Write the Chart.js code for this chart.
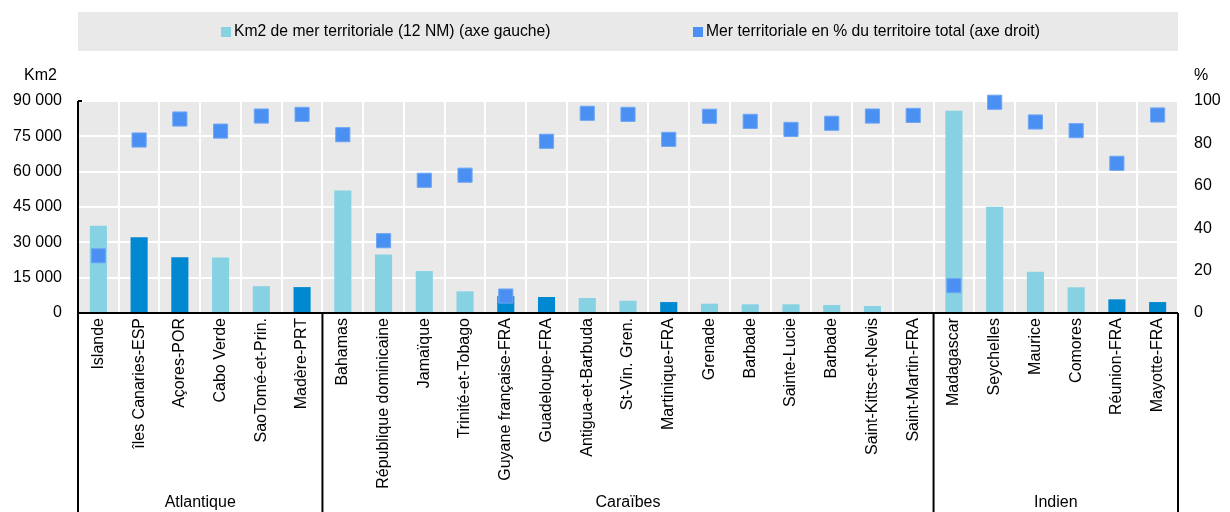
<!DOCTYPE html>
<html>
<head>
<meta charset="utf-8">
<script src="https://cdn.jsdelivr.net/npm/chart.js@4.4.0/dist/chart.umd.min.js"></script>
<style>
  body { margin: 0; background: #fff; }
</style>
</head>
<body>
<canvas id="myChart" width="1230" height="512"></canvas>
<script>
  const categories = [
    "Islande", "îles Canaries-ESP", "Açores-POR", "Cabo Verde", "SaoTomé-et-Prin.", "Madère-PRT",
    "Bahamas", "République dominicaine", "Jamaïque", "Trinité-et-Tobago", "Guyane française-FRA",
    "Guadeloupe-FRA", "Antigua-et-Barbuda", "St-Vin. Gren.", "Martinique-FRA", "Grenade", "Barbade",
    "Sainte-Lucie", "Barbade", "Saint-Kitts-et-Nevis", "Saint-Martin-FRA",
    "Madagascar", "Seychelles", "Maurice", "Comores", "Réunion-FRA", "Mayotte-FRA"
  ];
  const seaKm2 = [
    37000, 32200, 23700, 23600, 11400, 11000,
    52000, 24800, 17800, 9200, 7200, 6800, 6350, 5200, 4650, 3950, 3700, 3700, 3400, 2950, 400,
    85900, 45100, 17500, 10900, 5800, 4650
  ];
  const seaPct = [
    27, 81.6, 91.5, 85.8, 92.9, 93.7,
    84.1, 34.1, 62.6, 65, 8, 81, 94.2, 93.7, 81.9, 92.8, 90.4, 86.6, 89.5, 92.9, 93.2,
    12.9, 99.4, 90.1, 86, 70.6, 93.4
  ];
  const groupNames = ["Atlantique", "Caraïbes", "Indien"];
  const groupSizes = [6, 15, 6];
  const legendLabels = [
    "Km2 de mer territoriale (12 NM) (axe gauche)",
    "Mer territoriale en % du territoire total (axe droit)"
  ];

  const FONT = "'Liberation Sans', Arial, sans-serif";
  const LIGHT = "#86D2E3";
  const DARK = "#0089D1";
  const MARK = "#4A90F2";

  Chart.defaults.font.family = FONT;
  Chart.defaults.font.size = 16;
  Chart.defaults.color = "#000";

  // european overseas parts get the darker bar
  const barColors = categories.map((c) => (/-(FRA|ESP|POR|PRT)$/.test(c) ? DARK : LIGHT));

  const fmt = (v) => String(v).replace(/\B(?=(\d{3})+(?!\d))/g, " ");

  const decor = {
    id: "decor",
    beforeDraw(chart) {
      const { ctx, chartArea: a } = chart;
      ctx.save();
      ctx.fillStyle = "#E9E9E9";
      ctx.fillRect(a.left, a.top, a.right - a.left, a.bottom - a.top);
      ctx.restore();
    },
    afterDraw(chart) {
      const { ctx, chartArea: a, scales } = chart;
      const x = scales.x;
      const h = chart.height;
      ctx.save();

      // legend box
      ctx.fillStyle = "#E9E9E9";
      ctx.fillRect(a.left, 12, a.right - a.left, 39);
      ctx.font = "15.7px " + FONT;
      ctx.textBaseline = "middle";
      ctx.textAlign = "left";
      const items = [
        { x: a.left + 143, color: LIGHT },
        { x: a.left + 615, color: MARK },
      ];
      items.forEach((it, i) => {
        ctx.fillStyle = it.color;
        ctx.fillRect(it.x, 27, 10, 10);
        ctx.fillStyle = "#000";
        ctx.fillText(legendLabels[i], it.x + 13, 32);
      });

      // axis titles
      ctx.font = "16px " + FONT;
      ctx.textAlign = "right";
      ctx.fillText("Km2", a.left - 21, 76);
      ctx.textAlign = "left";
      ctx.fillText("%", a.right + 16, 76);

      // axes and group frame
      ctx.strokeStyle = "#000";
      ctx.lineWidth = 2;
      ctx.beginPath();
      ctx.moveTo(a.left, a.top);
      ctx.lineTo(a.left, h);
      ctx.moveTo(a.left, a.top);
      ctx.lineTo(a.left + 4, a.top);
      ctx.moveTo(a.left, a.bottom);
      ctx.lineTo(a.right, a.bottom);
      ctx.moveTo(a.right, a.bottom);
      ctx.lineTo(a.right, h);
      ctx.stroke();

      ctx.textAlign = "center";
      let start = 0;
      groupSizes.forEach((n, g) => {
        const x0 = x.getPixelForValue(start - 0.5);
        const x1 = x.getPixelForValue(start + n - 0.5);
        if (start > 0) {
          ctx.beginPath();
          ctx.moveTo(x0, a.bottom);
          ctx.lineTo(x0, h);
          ctx.stroke();
        }
        ctx.fillText(groupNames[g], (x0 + x1) / 2, 503);
        start += n;
      });
      ctx.restore();
    },
  };

  const ctx = document.getElementById("myChart").getContext("2d");
  const myChart = new Chart(ctx, {
    data: {
      labels: categories,
      datasets: [
        {
          type: "line",
          label: legendLabels[1],
          data: seaPct,
          yAxisID: "y1",
          showLine: false,
          clip: false,
          pointStyle: "rect",
          pointRadius: 10,
          pointBackgroundColor: MARK,
          pointBorderColor: "#6FA6F4",
          pointBorderWidth: 1,
          order: 0,
        },
        {
          type: "bar",
          label: legendLabels[0],
          data: seaKm2,
          yAxisID: "y",
          backgroundColor: barColors,
          barPercentage: 0.42,
          categoryPercentage: 1,
          order: 1,
        },
      ],
    },
    options: {
      responsive: false,
      animation: false,
      devicePixelRatio: 1,
      events: [],
      layout: { padding: { top: 101, left: 0, right: 0, bottom: 0 } },
      plugins: { legend: { display: false }, tooltip: { enabled: false } },
      scales: {
        x: {
          offset: true,
          grid: { offset: true, color: "#fff", lineWidth: 2, drawTicks: false },
          border: { display: false },
          ticks: { autoSkip: false, maxRotation: 90, minRotation: 90, padding: 5 },
          afterFit: (s) => { s.height = 199; },
        },
        y: {
          position: "left",
          min: 0,
          max: 90000,
          grid: { color: "#fff", lineWidth: 2, drawTicks: false },
          border: { display: false },
          ticks: { stepSize: 15000, padding: 16, callback: (v) => fmt(v) },
          afterFit: (s) => { s.width = 78; },
        },
        y1: {
          position: "right",
          min: 0,
          max: 100,
          grid: { display: false, drawTicks: false },
          border: { display: false },
          ticks: { stepSize: 20, padding: 16 },
          afterFit: (s) => { s.width = 52; },
        },
      },
    },
    plugins: [decor],
  });
</script>
</body>
</html>
